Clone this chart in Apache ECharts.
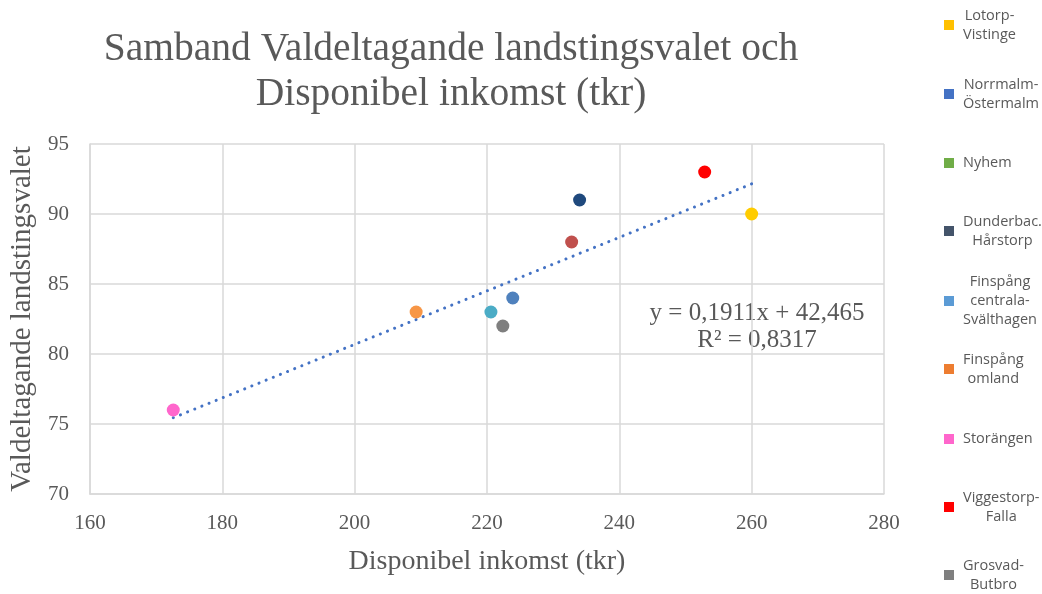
<!DOCTYPE html>
<html>
<head>
<meta charset="utf-8">
<script src="https://cdn.jsdelivr.net/npm/echarts@6/dist/echarts.min.js"></script>
<style>
  html, body { margin: 0; padding: 0; background: #ffffff; }
  #chart { width: 1042px; height: 594px; }
</style>
</head>
<body>
<div id="chart"></div>
<script>
// Areas (legend labels, line breaks as shown)
const areas = [
  'Lotorp-\nVistinge',
  'Norrmalm-\nÖstermalm',
  'Nyhem',
  'Dunderbac.\nHårstorp',
  'Finspång\ncentrala-\nSvälthagen',
  'Finspång\nomland',
  'Storängen',
  'Viggestorp-\nFalla',
  'Grosvad-\nButbro'
];
// Disponibel inkomst (tkr)
const income = [260.0, 223.9, 232.8, 234.0, 220.6, 209.3, 172.6, 252.9, 222.4];
// Valdeltagande landstingsvalet (%)
const turnout = [90, 84, 88, 91, 83, 83, 76, 93, 82];
// Marker colours in the plot
const markerColors = ['#FFCC00', '#4F81BD', '#C0504D', '#1F497D', '#4BACC6', '#F79646', '#FF66CC', '#FF0000', '#7F7F7F'];
// Legend swatch colours
const legendColors = ['#FFC000', '#4472C4', '#70AD47', '#44546A', '#5B9BD5', '#ED7D31', '#FF66CC', '#FF0000', '#7F7F7F'];
// Linear trend
const slope = 0.1911;
const intercept = 42.465;
const rSquared = 0.8317;
// Axis ticks
const xTicks = { min: 160, max: 280, interval: 20 };
const yTicks = { min: 70, max: 95, interval: 5 };

const serif = "'Liberation Serif', 'Times New Roman', serif";
const sans = "'Open Sans', 'Noto Sans', sans-serif";
const textGray = '#595959';
const gridGray = '#D9D9D9';

const fmt = (v, d) => v.toFixed(d).replace('.', ',');

const xMin = Math.min(...income);
const xMax = Math.max(...income);
const trend = [[xMin, slope * xMin + intercept], [xMax, slope * xMax + intercept]];

const series = areas.map((name, i) => ({
  name: name,
  type: 'scatter',
  symbol: 'circle',
  symbolSize: 13,
  itemStyle: { color: markerColors[i], opacity: 1 },
  data: [[income[i], turnout[i]]],
  z: 3
}));
series.push({
  name: 'trend',
  type: 'line',
  data: trend,
  symbol: 'none',
  silent: true,
  lineStyle: { color: '#4472C4', width: 3, type: [0.1, 7.6], cap: 'round' },
  z: 2
});

// One legend block per area, spaced evenly down the right edge
const legendCenters = [27, 96, 165, 233, 303, 371, 441, 509, 577];
const lineH = 19;
const legends = areas.map((name, i) => {
  const lines = name.split('\n').length;
  return {
    orient: 'vertical',
    left: 944,
    top: legendCenters[i] - (lines * lineH) / 2,
    padding: 0,
    itemWidth: 10,
    itemHeight: 10,
    itemGap: 0,
    selectedMode: false,
    icon: 'rect',
    data: [{ name: name, itemStyle: { color: legendColors[i], opacity: 1 } }],
    formatter: n => '{t|' + n + '}',
    textStyle: {
      rich: {
        t: { fontFamily: sans, fontSize: 14.5, color: textGray, lineHeight: lineH, align: 'center', padding: [0, 0, 0, 4] }
      }
    }
  };
});

const chart = echarts.init(document.getElementById('chart'), null, { renderer: 'canvas' });
chart.setOption({
  animation: false,
  backgroundColor: '#ffffff',
  title: {
    text: 'Samband Valdeltagande landstingsvalet och\nDisponibel inkomst (tkr)',
    left: 446,
    top: 22,
    textAlign: 'center',
    textStyle: { fontFamily: serif, fontSize: 39.5, fontWeight: 'normal', color: textGray, lineHeight: 45 }
  },
  legend: legends,
  grid: { left: 89, right: 158, top: 144, bottom: 100, containLabel: false },
  xAxis: {
    type: 'value',
    min: xTicks.min, max: xTicks.max, interval: xTicks.interval,
    name: 'Disponibel inkomst (tkr)',
    nameLocation: 'middle',
    nameGap: 54,
    nameTextStyle: { fontFamily: serif, fontSize: 28, color: textGray },
    axisLine: { show: true, lineStyle: { color: gridGray, width: 1.5 } },
    axisTick: { show: false },
    axisLabel: { fontFamily: serif, fontSize: 21, color: textGray, margin: 19 },
    splitLine: { show: true, lineStyle: { color: gridGray, width: 1.5 } }
  },
  yAxis: {
    type: 'value',
    min: yTicks.min, max: yTicks.max, interval: yTicks.interval,
    name: 'Valdeltagande landstingsvalet',
    nameLocation: 'middle',
    nameGap: 47,
    nameTextStyle: { fontFamily: serif, fontSize: 29, color: textGray },
    axisLine: { show: true, lineStyle: { color: gridGray, width: 1.5 } },
    axisTick: { show: false },
    axisLabel: { fontFamily: serif, fontSize: 21, color: textGray, margin: 21 },
    splitLine: { show: true, lineStyle: { color: gridGray, width: 1.5 } }
  },
  graphic: [{
    type: 'text',
    x: 757,
    y: 300,
    style: {
      text: 'y = ' + fmt(slope, 4) + 'x + ' + fmt(intercept, 3) + '\nR\u00B2 = ' + fmt(rSquared, 4),
      font: '25px ' + serif,
      fill: textGray,
      textAlign: 'center',
      textVerticalAlign: 'top',
      lineHeight: 27
    }
  }],
  series: series
});
</script>
</body>
</html>
